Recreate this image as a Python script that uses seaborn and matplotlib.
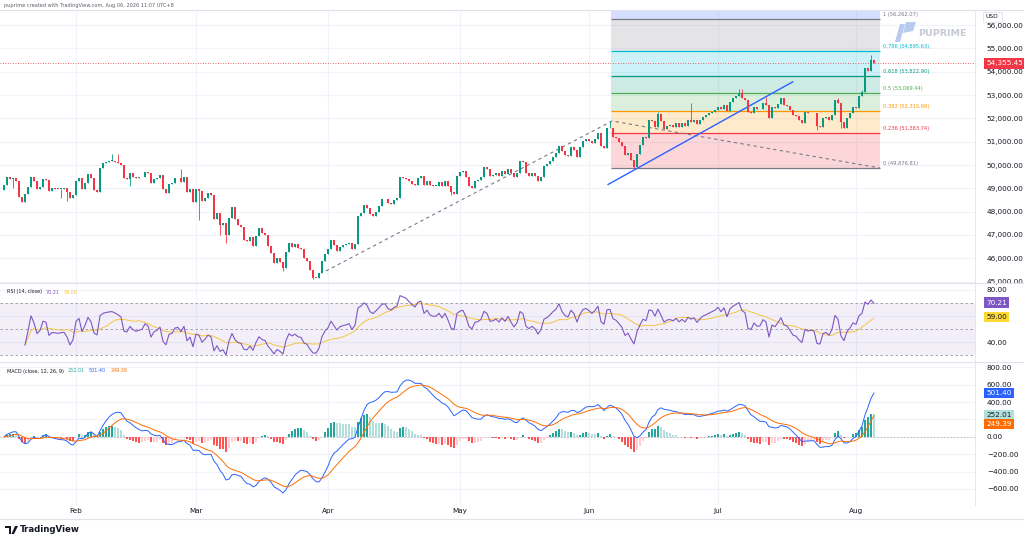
import numpy as np
import pandas as pd
import matplotlib
matplotlib.use("Agg")
import matplotlib.pyplot as plt
import matplotlib.transforms as mtransforms
from matplotlib.lines import Line2D
from matplotlib.patches import Polygon
from matplotlib.ticker import FuncFormatter
import seaborn as sns

# 12h closes, Jan 15 -> Aug 6 2026 (two bars per weekday)
closes = [
    # Jan 15 - Feb 2
    49142, 49500, 49400, 49450, 49330, 48620, 48430, 48740, 49040, 49500,
    49310, 48970, 49070, 49400, 49370, 48900, 49000, 48990, 48970, 48990,
    49000, 48860, 48570, 48700, 49300,
    # Feb
    49430, 48950, 49210, 49600, 49430, 48930, 48830, 49890, 50070, 50130,
    50170, 50190, 50140, 50080, 50000, 49430, 49400, 49640, 49500, 49430,
    49470, 49500, 49710, 49640, 49213, 49400, 49460, 49571, 48970, 48784,
    49171, 49214, 49430, 49457, 49285, 49500, 48828, 48970, 48400,
    # Mar
    48970, 48900, 48460, 48600, 48785, 48700, 47683, 47927, 47426, 47500,
    47000, 47713, 48184, 47684, 47426, 47354, 46783, 46740, 46926, 46540,
    46955, 47283, 47069, 46997, 46540, 46210, 45782, 46000, 45825, 45567,
    46254, 46668, 46500, 46610, 46425, 46382, 45996, 45882, 45500, 45170,
    45150, 45350, 45900, 46200,
    # Apr
    46380, 46800, 46550, 46300, 46500, 46560, 46600, 46670, 46400, 46600,
    47800, 47950, 48270, 48170, 47884, 47800, 48000, 48240, 48527, 48560,
    48384, 48330, 48500, 48598, 49499, 49457, 49414, 49300, 49200, 49128,
    49450, 49528, 49130, 49326, 49154, 49112, 49112, 49255, 49112, 49326,
    49112, 48826, 48754, 49540,
    # May
    49683, 49726, 49498, 49112, 49011, 49326, 49355, 49470, 49898, 49826,
    49540, 49560, 49641, 49540, 49726, 49610, 49826, 49640, 49470, 49640,
    50184, 50113, 49641, 49540, 49641, 49540, 49326, 49500, 49970, 50041,
    50184, 50356, 50499, 50828, 50584, 50450, 50398, 50756, 50642, 50350,
    50756, 51042,
    # Jun
    51114, 51042, 50950, 51114, 51358, 50815, 50715, 51572, 51600, 51215,
    51150, 51001, 50830, 50429, 50529, 50214, 49920, 50472, 50858, 51215,
    51144, 51930, 51900, 51644, 52200, 51900, 51530, 51673, 51716, 51644,
    51800, 51644, 51787, 51673, 51930, 51859, 51930, 51758, 51930, 52073,
    52130, 52216, 52288, 52359,
    # Jul
    52502, 52388, 52574, 52330, 52716, 52860, 52960, 53074, 52860, 52800,
    52288, 52245, 52502, 52388, 52400, 52645, 52574, 52002, 52502, 52431,
    52617, 52860, 52574, 52531, 52359, 52145, 52102, 51930, 51816, 52288,
    52216, 52245, 52216, 51672, 51644, 52002, 52050, 51930, 52145, 52788,
    52645, 51859, 51573, 52002, 52216, 52502,
    # Aug 3 - 6
    52431, 52960, 53146, 54147, 54047, 54504, 54355.45,
]
first_open = 48927

# wicks that stand out on the chart (bar index -> price)
wick_hi = {36: 50460, 38: 50460, 59: 49850, 202: 51900, 218: 52290, 229: 52646,
           245: 53250, 246: 53240, 254: 52931, 278: 52860, 286: 53217, 289: 54718}
wick_lo = {3: 49030, 19: 48600, 21: 48450, 42: 49100, 65: 47640, 72: 47000,
           74: 46640, 93: 45450, 103: 45110, 149: 48700, 210: 49877, 271: 51501,
           279: 51573}

month_names = ["Feb", "Mar", "Apr", "May", "Jun", "Jul", "Aug"]
month_bars = [24, 64, 108, 152, 195, 238, 284]

fib_ratios = ["0", "0.236", "0.382", "0.5", "0.618", "0.786", "1"]
fib_prices = [49876.81, 51383.74, 52315.98, 53069.44, 53822.90, 54895.63, 56262.07]
fib_colors = ["#787b86", "#f23645", "#ff9800", "#4caf50", "#089981", "#00bcd4", "#787b86"]
fib_top_color = "#2962ff"
fib_span = (202.3, 292.0)

dash_pts = [(107.3, 45453), (202.7, 51888), (292.0, 49871)]
blue_pts = [(201.3, 49160), (263.0, 53574)]

last_price = 54355.45
rsi_last, rsi_ma_last = 70.21, 59.00
macd_last, hist_last, signal_last = 501.40, 252.01, 249.39
price_ticks = list(range(45000, 56001, 1000))
macd_ticks = list(range(-600, 801, 200))

GREEN, RED = "#089981", "#f23645"
GRID = "#f0f3fa"
TXT = "#131722"

# ---- candles and indicators
df = pd.DataFrame({"close": closes})
df["open"] = df["close"].shift(1).fillna(first_open)
df["high"] = df[["open", "close"]].max(axis=1)
df["low"] = df[["open", "close"]].min(axis=1)
for k, v in wick_hi.items():
    df.loc[k, "high"] = max(df.loc[k, "high"], v)
for k, v in wick_lo.items():
    df.loc[k, "low"] = min(df.loc[k, "low"], v)
df["bar"] = np.arange(len(df))

delta = df["close"].diff()
gain = delta.clip(lower=0).ewm(alpha=1 / 14, adjust=True).mean()
loss = (-delta.clip(upper=0)).ewm(alpha=1 / 14, adjust=True).mean()
df["rsi"] = 100 - 100 / (1 + gain / loss)
# the first few values have no history behind them
df.loc[:6, "rsi"] = np.nan
df["rsi_ma"] = df["rsi"].rolling(14, min_periods=1).mean()
ema12 = df["close"].ewm(span=12, adjust=False).mean()
ema26 = df["close"].ewm(span=26, adjust=False).mean()
df["macd"] = ema12 - ema26
df["signal"] = df["macd"].ewm(span=9, adjust=False).mean()
df["hist"] = df["macd"] - df["signal"]

sns.set_theme(style="white")
plt.rcParams["font.family"] = ["DejaVu Sans"]

W, H = 1024, 542
fig = plt.figure(figsize=(W / 100, H / 100), dpi=100)
fig.patch.set_facecolor("white")


def rect(x0, y0, x1, y1):
    return [x0 / W, 1 - y1 / H, (x1 - x0) / W, (y1 - y0) / H]


ax_p = fig.add_axes(rect(0, 10, 975, 283))
ax_r = fig.add_axes(rect(0, 283, 975, 362), sharex=ax_p)
ax_m = fig.add_axes(rect(0, 362, 975, 505), sharex=ax_p)

for ax in (ax_p, ax_r, ax_m):
    for s in ax.spines.values():
        s.set_visible(False)
    ax.set_facecolor("white")
    ax.yaxis.tick_right()
    ax.tick_params(axis="y", length=0, pad=8.5, labelsize=5.2, labelcolor=TXT)
    ax.tick_params(axis="x", length=0)
    ax.grid(True, color=GRID, lw=0.8)
    ax.set_axisbelow(True)

ax_p.set_xlim(-1.33, 323.67)
ax_p.set_xticks(month_bars)
ax_p.set_ylim(44938, 56650)
ax_p.set_yticks(price_ticks)
ax_p.yaxis.set_major_formatter(FuncFormatter(lambda v, _: f"{v:,.2f}"))
plt.setp(ax_p.get_xticklabels(), visible=False)
plt.setp(ax_r.get_xticklabels(), visible=False)

# ---- fib extension box
top = ax_p.get_ylim()[1]
for j, lvl in enumerate(fib_prices):
    upper = fib_prices[j + 1] if j + 1 < len(fib_prices) else top
    col = fib_colors[j + 1] if j + 1 < len(fib_colors) else fib_top_color
    ax_p.fill_between(fib_span, lvl, upper, color=col, alpha=0.2, lw=0, zorder=1)
    ax_p.hlines(lvl, *fib_span, color=fib_colors[j], lw=0.9, zorder=2)
    ax_p.text(fib_span[1] + 1.0, lvl + 90, f"{fib_ratios[j]} ({lvl:,.2f})",
              fontsize=3.7, color=fib_colors[j], va="bottom", ha="left", zorder=3)

# drawn lines
dx, dy = zip(*dash_pts)
ax_p.plot(dx, dy, color="#787b86", lw=0.8, ls=(0, (3, 3)), zorder=2)
bx, by = zip(*blue_pts)
ax_p.plot(bx, by, color="#2962ff", lw=1.0, zorder=4)

ax_p.axhline(last_price, color=RED, lw=0.6, ls=(0, (1, 2)), zorder=2)

# candles
up = df["close"] >= df["open"]
cols = np.where(up, GREEN, RED)
ax_p.vlines(df["bar"], df["low"], df["high"], colors=cols, lw=0.6, zorder=5)
body_lo = df[["open", "close"]].min(axis=1)
body_h = (df["close"] - df["open"]).abs().clip(lower=25)
ax_p.bar(df["bar"], body_h, bottom=body_lo, width=0.68, color=cols, lw=0, zorder=6)

blend_p = mtransforms.blended_transform_factory(ax_p.transAxes, ax_p.transData)
ax_p.text(1.0115, last_price, f"{last_price:,.2f}", transform=blend_p, fontsize=5.2,
          color="white", va="center", ha="left",
          bbox=dict(boxstyle="square,pad=0.3", fc=RED, ec="none"))

# ---- RSI panel
ax_r.set_ylim(24.8, 85.1)
ax_r.set_yticks([40, 60, 80])
ax_r.set_yticklabels(["40.00", "", "80.00"])
ax_r.axhspan(30, 70, color="#7e57c2", alpha=0.09, lw=0)
for v in (70, 50, 30):
    ax_r.axhline(v, color="#9598a1", lw=0.6, ls=(0, (3, 3)))
sns.lineplot(data=df, x="bar", y="rsi_ma", ax=ax_r, color="#f5c542", lw=0.7, estimator=None)
sns.lineplot(data=df, x="bar", y="rsi", ax=ax_r, color="#7e57c2", lw=0.8, estimator=None)
ax_r.set_xlabel("")
ax_r.set_ylabel("")
blend_r = mtransforms.blended_transform_factory(ax_r.transAxes, ax_r.transData)
ax_r.text(1.0115, rsi_last, f"{rsi_last:.2f}", transform=blend_r, fontsize=5.2, color="white",
          va="center", bbox=dict(boxstyle="square,pad=0.3", fc="#7e57c2", ec="none"))
ax_r.text(1.0115, rsi_ma_last, f"{rsi_ma_last:.2f}", transform=blend_r, fontsize=5.2, color=TXT,
          va="center", bbox=dict(boxstyle="square,pad=0.3", fc="#fdd835", ec="none"))

# ---- MACD panel
ax_m.set_ylim(-785, 861)
ax_m.set_yticks(macd_ticks)
ax_m.set_yticklabels(["" if v == 200 else f"{v:.2f}".replace("-", "\u2212") for v in macd_ticks])
ax_m.axhline(0, color="#b2b5be", lw=0.6, ls=(0, (2, 2)))
prev = df["hist"].shift(1).fillna(0)
hist_cols = np.where(df["hist"] >= 0,
                     np.where(df["hist"] >= prev, "#26a69a", "#b2dfdb"),
                     np.where(df["hist"] < prev, "#ff5252", "#ffcdd2"))
ax_m.bar(df["bar"], df["hist"], width=0.75, color=hist_cols, lw=0, zorder=2)
sns.lineplot(data=df, x="bar", y="macd", ax=ax_m, color="#2962ff", lw=0.7, estimator=None, zorder=3)
sns.lineplot(data=df, x="bar", y="signal", ax=ax_m, color="#ff6d00", lw=0.7, estimator=None, zorder=3)
ax_m.set_xlabel("")
ax_m.set_ylabel("")
ax_m.set_xticks(month_bars)
ax_m.set_xticklabels(month_names)
ax_m.tick_params(axis="x", labelsize=5.2, labelcolor=TXT, pad=2.5)
blend_m = mtransforms.blended_transform_factory(ax_m.transAxes, ax_m.transData)
ax_m.text(1.0115, macd_last, f"{macd_last:.2f}", transform=blend_m, fontsize=5.2, color="white",
          va="center", bbox=dict(boxstyle="square,pad=0.3", fc="#2962ff", ec="none"))
ax_m.text(1.0115, 252, f"{hist_last:.2f}", transform=blend_m, fontsize=5.2, color=TXT,
          va="center", bbox=dict(boxstyle="square,pad=0.3", fc="#b2dfdb", ec="none"))
ax_m.text(1.0115, 148, f"{signal_last:.2f}", transform=blend_m, fontsize=5.2, color="white",
          va="center", bbox=dict(boxstyle="square,pad=0.3", fc="#ff6d00", ec="none"))


# ---- frame lines, headers, logos
def hline_px(y, x0=0, x1=W, color="#e0e3eb", lw=0.8):
    fig.add_artist(Line2D([x0 / W, x1 / W], [1 - y / H, 1 - y / H], color=color, lw=lw))


for y in (10, 283, 362, 519):
    hline_px(y)
fig.add_artist(Line2D([975 / W, 975 / W], [1 - 505 / H, 1 - 10 / H], color="#e0e3eb", lw=0.6))


def ftext(x, y, s, **kw):
    return fig.text(x / W, 1 - y / H, s, va="center", ha="left", **kw)


renderer = fig.canvas.get_renderer()


def legend_row(x, y, parts, size=3.5, gap=4):
    # pane title followed by the last values, each placed after the previous one
    for s, c in parts:
        t = ftext(x, y, s, fontsize=size, color=c)
        x = t.get_window_extent(renderer).x1 + gap


ftext(4, 5, "puprime created with TradingView.com, Aug 06, 2026 11:07 UTC+8", fontsize=3.6, color="#5d606b")
legend_row(7, 292, [("RSI (14, close)", TXT), (f"{rsi_last:.2f}", "#7e57c2"),
                    (f"{rsi_ma_last:.2f}", "#f5c542")])
legend_row(7, 371, [("MACD (close, 12, 26, 9)", TXT), (f"{hist_last:.2f}", "#26a69a"),
                    (f"{macd_last:.2f}", "#2962ff"), (f"{signal_last:.2f}", "#ff6d00")])
ftext(986, 17, "USD", fontsize=4.3, color=TXT,
      bbox=dict(boxstyle="square,pad=0.5", fc="white", ec="#e0e3eb", lw=0.6))

# PU PRIME watermark
pp = lambda pts: [(x / W, 1 - y / H) for x, y in pts]
fig.add_artist(Polygon(pp([(900, 24), (905, 24), (900, 42), (895, 42)]), closed=True,
                       fc="#b9cbef", ec="none", transform=fig.transFigure))
fig.add_artist(Polygon(pp([(906, 22), (916, 22), (913, 31), (903, 33)]), closed=True,
                       fc="#b9cbef", ec="none", transform=fig.transFigure))
ftext(918, 33, "PUPRIME", fontsize=6.8, color="#c5c9d3", fontweight="bold")

# TradingView logo
fig.add_artist(Polygon(pp([(5, 526), (11, 526), (11, 534), (9, 534), (9, 528), (5, 528)]), closed=True,
                       fc=TXT, ec="none", transform=fig.transFigure))
fig.add_artist(Polygon(pp([(15, 526), (18, 526), (14, 534), (11.5, 534)]), closed=True,
                       fc=TXT, ec="none", transform=fig.transFigure))
ftext(20, 530, "TradingView", fontsize=6.2, color=TXT, fontweight="bold")

fig.savefig("out.png", dpi=100, facecolor="white")
